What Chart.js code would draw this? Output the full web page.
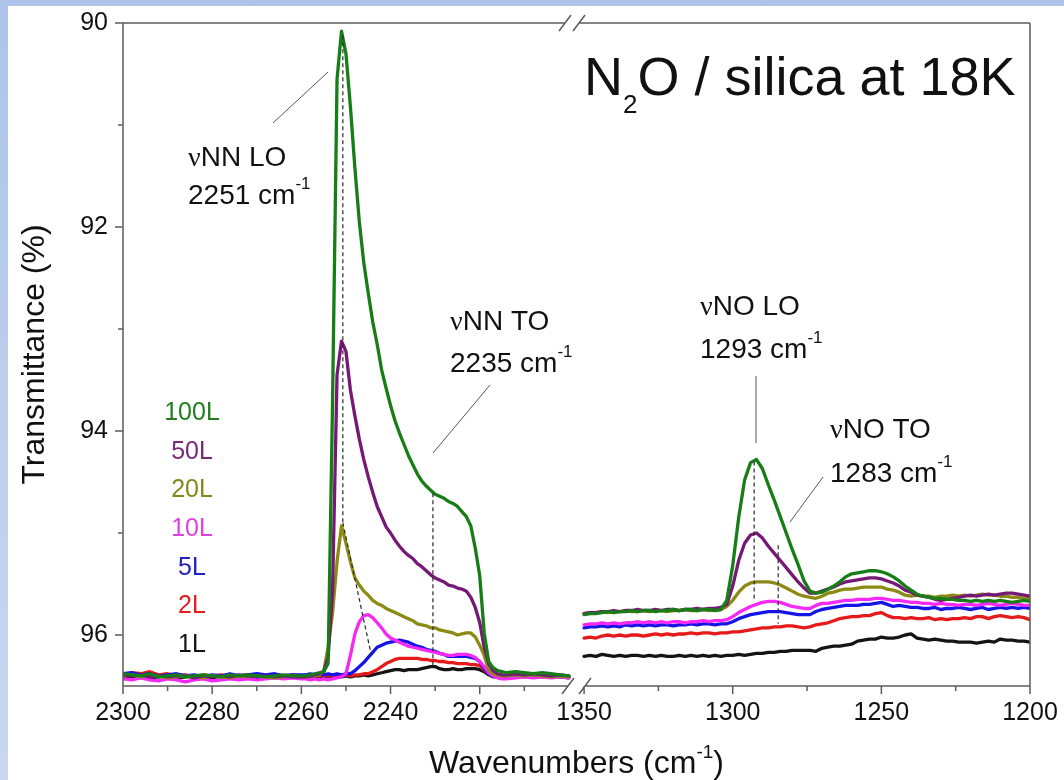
<!DOCTYPE html>
<html>
<head>
<meta charset="utf-8">
<script src="https://cdn.jsdelivr.net/npm/chart.js@4.4.1/dist/chart.umd.min.js"></script>
<style>
  html, body { margin: 0; padding: 0; }
  body { width: 1064px; height: 780px; position: relative; overflow: hidden;
         background: linear-gradient(#aec4e8, #c9d8f0); }
  #sheet { position: absolute; left: 8px; top: 6px; right: 0; bottom: 0; background: #fff; }
  #chart { position: absolute; left: 0; top: 0; }
</style>
</head>
<body>
<div id="sheet"></div>
<canvas id="chart" width="1064" height="780"></canvas>
<script>
// wavenumbers (cm-1), left panel: NN stretch region
const leftWn = [
  2300, 2298, 2296, 2294, 2292, 2290, 2288, 2286, 2284, 2282, 2280, 2278, 2276, 2274, 2272, 2270, 2268, 2266, 2264, 2262, 2260,
  2259, 2258, 2257, 2256, 2255, 2254, 2253, 2252, 2251, 2250,
  2249, 2248, 2247, 2246, 2245, 2244, 2243, 2242, 2241, 2240,
  2239, 2238, 2237, 2236, 2235, 2234, 2233, 2232, 2231, 2230,
  2229, 2228, 2227, 2226, 2225, 2224, 2223, 2222, 2221, 2220,
  2219, 2218, 2217, 2216, 2215,
  2214, 2212, 2210, 2208, 2206, 2204, 2202, 2200
];

// wavenumbers (cm-1), right panel: NO stretch region
const rightWn = [
  1350, 1348, 1346, 1344, 1342, 1340, 1338, 1336, 1334, 1332,
  1330, 1328, 1326, 1324, 1322, 1320, 1318, 1316, 1314, 1312,
  1310, 1308, 1306, 1304, 1302, 1300, 1298, 1296, 1294, 1292,
  1290, 1288, 1286, 1284, 1282, 1280, 1278, 1276, 1274, 1272,
  1270, 1268, 1266, 1264, 1262, 1260, 1258, 1256, 1254, 1252,
  1250, 1248, 1246, 1244, 1242, 1240, 1238, 1236, 1234, 1232,
  1230, 1228, 1226, 1224, 1222, 1220, 1218, 1216, 1214, 1212,
  1210, 1208, 1206, 1204, 1202, 1200
];

// transmittance (%) per exposure, left panel
const left100 = [
  96.38, 96.39, 96.40, 96.38, 96.41, 96.40, 96.39, 96.41, 96.40, 96.39, 96.40, 96.41, 96.39, 96.40, 96.39, 96.40, 96.41, 96.40, 96.39, 96.40, 96.40,
  96.40, 96.39, 96.38, 96.37, 96.36, 96.28, 93.70, 90.55, 90.08, 90.30,
  90.82, 91.42, 91.95, 92.35, 92.65, 92.93, 93.15, 93.40, 93.58, 93.75,
  93.90, 94.02, 94.13, 94.24, 94.33, 94.42, 94.49, 94.54, 94.58, 94.62,
  94.64, 94.66, 94.69, 94.71, 94.74, 94.79, 94.84, 94.93, 95.15, 95.42,
  95.98, 96.26, 96.32, 96.35, 96.36,
  96.37, 96.36, 96.37, 96.38, 96.37, 96.38, 96.39, 96.40
];
const left50 = [
  96.39, 96.40, 96.39, 96.41, 96.40, 96.41, 96.40, 96.40, 96.42, 96.40, 96.41, 96.40, 96.41, 96.39, 96.40, 96.41, 96.40, 96.41, 96.40, 96.41, 96.41,
  96.41, 96.40, 96.39, 96.38, 96.36, 96.22, 95.55, 93.45, 93.12, 93.22,
  93.60, 93.85, 94.08, 94.28, 94.45, 94.60, 94.74, 94.84, 94.94, 95.00,
  95.07, 95.13, 95.18, 95.22, 95.25, 95.30, 95.33, 95.37, 95.41, 95.44,
  95.46, 95.48, 95.51, 95.52, 95.54, 95.55, 95.57, 95.63, 95.73, 95.88,
  96.12, 96.28, 96.35, 96.38, 96.39,
  96.39, 96.38, 96.39, 96.38, 96.39, 96.40, 96.39, 96.40
];
const left20 = [
  96.40, 96.39, 96.41, 96.40, 96.40, 96.42, 96.41, 96.40, 96.41, 96.42, 96.40, 96.41, 96.42, 96.40, 96.41, 96.40, 96.41, 96.42, 96.41, 96.40, 96.41,
  96.41, 96.40, 96.40, 96.39, 96.36, 96.12, 95.78, 95.28, 94.93, 95.10,
  95.28, 95.44, 95.51, 95.57, 95.61, 95.66, 95.69, 95.71, 95.74, 95.76,
  95.78, 95.80, 95.82, 95.84, 95.86, 95.89, 95.90, 95.91, 95.93, 95.93,
  95.95, 95.96, 95.97, 95.98, 96.00, 95.99, 95.98, 95.98, 96.02, 96.10,
  96.20, 96.34, 96.38, 96.39, 96.40,
  96.40, 96.39, 96.40, 96.39, 96.40, 96.41, 96.40, 96.41
];
const left10 = [
  96.43, 96.44, 96.42, 96.44, 96.45, 96.43, 96.44, 96.46, 96.44, 96.43, 96.45, 96.44, 96.43, 96.44, 96.43, 96.44, 96.43, 96.42, 96.43, 96.42, 96.43,
  96.43, 96.44, 96.43, 96.44, 96.43, 96.44, 96.43, 96.42, 96.41, 96.38,
  96.20, 95.99, 95.87, 95.81, 95.80, 95.83, 95.88, 95.93, 95.99, 96.03,
  96.05, 96.07, 96.09, 96.11, 96.12, 96.13, 96.14, 96.15, 96.16, 96.17,
  96.18, 96.19, 96.20, 96.20, 96.19, 96.19, 96.19, 96.20, 96.22, 96.26,
  96.31, 96.37, 96.40, 96.42, 96.43,
  96.43, 96.42, 96.41, 96.42, 96.41, 96.42, 96.41, 96.42
];
const left5 = [
  96.38, 96.37, 96.39, 96.38, 96.40, 96.39, 96.38, 96.40, 96.39, 96.41, 96.39, 96.40, 96.38, 96.40, 96.39, 96.38, 96.39, 96.38, 96.40, 96.39, 96.39,
  96.39, 96.38, 96.39, 96.38, 96.39, 96.38, 96.39, 96.38, 96.39, 96.38,
  96.38, 96.35, 96.31, 96.27, 96.22, 96.17, 96.12, 96.10, 96.08, 96.07,
  96.06, 96.05, 96.06, 96.07, 96.09, 96.11, 96.12, 96.14, 96.15, 96.16,
  96.18, 96.19, 96.21, 96.21, 96.21, 96.21, 96.21, 96.22, 96.23, 96.26,
  96.33, 96.38, 96.40, 96.40, 96.40,
  96.40, 96.39, 96.40, 96.39, 96.40, 96.41, 96.40, 96.41
];
const left2 = [
  96.39, 96.37, 96.38, 96.36, 96.39, 96.38, 96.40, 96.39, 96.41, 96.39, 96.40, 96.39, 96.41, 96.40, 96.39, 96.41, 96.40, 96.39, 96.40, 96.39, 96.40,
  96.40, 96.39, 96.40, 96.39, 96.40, 96.39, 96.40, 96.39, 96.40, 96.39,
  96.40, 96.39, 96.39, 96.38, 96.38, 96.36, 96.34, 96.31, 96.28, 96.26,
  96.24, 96.23, 96.23, 96.23, 96.23, 96.23, 96.24, 96.24, 96.25, 96.25,
  96.26, 96.26, 96.27, 96.27, 96.28, 96.28, 96.28, 96.29, 96.29, 96.30,
  96.34, 96.38, 96.40, 96.40, 96.40,
  96.40, 96.39, 96.40, 96.41, 96.40, 96.39, 96.40, 96.41
];
const left1 = [
  96.40, 96.41, 96.40, 96.42, 96.41, 96.40, 96.42, 96.41, 96.40, 96.41, 96.42, 96.40, 96.41, 96.40, 96.41, 96.42, 96.41, 96.40, 96.41, 96.40, 96.40,
  96.41, 96.40, 96.41, 96.40, 96.41, 96.40, 96.41, 96.40, 96.41, 96.40,
  96.41, 96.40, 96.40, 96.39, 96.40, 96.39, 96.38, 96.37, 96.36, 96.35,
  96.34, 96.34, 96.35, 96.34, 96.34, 96.34, 96.33, 96.32, 96.31, 96.31,
  96.33, 96.34, 96.34, 96.33, 96.34, 96.34, 96.33, 96.33, 96.33, 96.34,
  96.36, 96.39, 96.41, 96.41, 96.41,
  96.41, 96.40, 96.41, 96.40, 96.41, 96.40, 96.41, 96.42
];

// transmittance (%) per exposure, right panel
const right100 = [
  95.80, 95.79, 95.79, 95.78, 95.77, 95.78, 95.77, 95.77, 95.76, 95.77,
  95.76, 95.76, 95.77, 95.76, 95.76, 95.75, 95.76, 95.75, 95.75, 95.76,
  95.75, 95.75, 95.76, 95.75, 95.66, 95.32, 94.85, 94.48, 94.31, 94.28,
  94.37, 94.53, 94.68, 94.84, 95.00, 95.16, 95.31, 95.47, 95.57, 95.59,
  95.58, 95.55, 95.52, 95.48, 95.43, 95.40, 95.39, 95.38, 95.37, 95.37,
  95.38, 95.40, 95.43, 95.47, 95.52, 95.56, 95.60, 95.62, 95.63, 95.64,
  95.64, 95.65, 95.65, 95.66, 95.66, 95.67, 95.66, 95.67, 95.66, 95.67,
  95.66, 95.67, 95.68, 95.67, 95.66, 95.67
];
const right50 = [
  95.79, 95.78, 95.78, 95.77, 95.77, 95.76, 95.77, 95.76, 95.76, 95.75,
  95.76, 95.76, 95.75, 95.76, 95.75, 95.75, 95.76, 95.75, 95.75, 95.74,
  95.75, 95.74, 95.74, 95.73, 95.70, 95.52, 95.27, 95.10, 95.02, 95.00,
  95.05, 95.13, 95.20, 95.27, 95.34, 95.41, 95.48, 95.54, 95.59, 95.59,
  95.57, 95.55, 95.53, 95.50, 95.48, 95.47, 95.46, 95.45, 95.44, 95.44,
  95.45, 95.47, 95.49, 95.52, 95.56, 95.58, 95.61, 95.62, 95.63, 95.65,
  95.66, 95.65, 95.64, 95.63, 95.62, 95.61, 95.62, 95.61, 95.60, 95.61,
  95.60, 95.59, 95.59, 95.60, 95.61, 95.62
];
const right20 = [
  95.79, 95.78, 95.78, 95.77, 95.78, 95.77, 95.77, 95.76, 95.77, 95.77,
  95.76, 95.77, 95.76, 95.76, 95.77, 95.76, 95.76, 95.75, 95.76, 95.76,
  95.75, 95.76, 95.75, 95.75, 95.72, 95.66, 95.58, 95.52, 95.49, 95.48,
  95.48, 95.48, 95.49, 95.51, 95.54, 95.57, 95.60, 95.62, 95.63, 95.64,
  95.62, 95.59, 95.58, 95.56, 95.55, 95.55, 95.54, 95.53, 95.53, 95.53,
  95.53, 95.55, 95.56, 95.58, 95.61, 95.62, 95.61, 95.62, 95.62, 95.63,
  95.62, 95.62, 95.61, 95.62, 95.61, 95.62, 95.61, 95.60, 95.61, 95.61,
  95.62, 95.62, 95.63, 95.63, 95.64, 95.64
];
const right10 = [
  95.90, 95.89, 95.89, 95.88, 95.89, 95.88, 95.89, 95.88, 95.88, 95.87,
  95.88, 95.87, 95.88, 95.87, 95.88, 95.87, 95.87, 95.88, 95.87, 95.87,
  95.86, 95.87, 95.86, 95.86, 95.85, 95.82, 95.78, 95.75, 95.72, 95.70,
  95.68, 95.67, 95.67, 95.68, 95.70, 95.72, 95.73, 95.74, 95.74, 95.71,
  95.69, 95.69, 95.68, 95.67, 95.66, 95.66, 95.65, 95.65, 95.65, 95.64,
  95.64, 95.65, 95.66, 95.66, 95.67, 95.68, 95.68, 95.69, 95.69, 95.70,
  95.69, 95.70, 95.70, 95.71, 95.70, 95.70, 95.71, 95.70, 95.69, 95.70,
  95.71, 95.70, 95.69, 95.70, 95.71, 95.71
];
const right5 = [
  95.93, 95.92, 95.92, 95.91, 95.92, 95.91, 95.92, 95.90, 95.91, 95.90,
  95.91, 95.90, 95.91, 95.90, 95.90, 95.91, 95.90, 95.90, 95.89, 95.90,
  95.89, 95.89, 95.90, 95.89, 95.89, 95.87, 95.84, 95.82, 95.80, 95.79,
  95.78, 95.77, 95.77, 95.77, 95.78, 95.79, 95.80, 95.80, 95.80, 95.77,
  95.75, 95.74, 95.73, 95.72, 95.71, 95.71, 95.71, 95.70, 95.70, 95.69,
  95.68, 95.70, 95.72, 95.71, 95.72, 95.73, 95.73, 95.74, 95.74, 95.73,
  95.75, 95.74, 95.74, 95.73, 95.74, 95.75, 95.74, 95.73, 95.75, 95.74,
  95.73, 95.74, 95.73, 95.74, 95.73, 95.74
];
const right2 = [
  96.03, 96.02, 96.03, 96.01, 96.00, 96.01, 96.00, 96.01, 96.00, 96.00,
  96.01, 96.00, 95.99, 96.00, 95.99, 96.00, 95.99, 95.99, 95.98, 95.99,
  95.98, 95.98, 95.99, 95.98, 95.98, 95.97, 95.97, 95.96, 95.95, 95.94,
  95.93, 95.93, 95.92, 95.92, 95.91, 95.91, 95.92, 95.93, 95.92, 95.90,
  95.89, 95.88, 95.86, 95.84, 95.83, 95.82, 95.82, 95.81, 95.81, 95.79,
  95.78, 95.81, 95.83, 95.83, 95.84, 95.83, 95.84, 95.84, 95.83, 95.85,
  95.84, 95.85, 95.84, 95.84, 95.83, 95.84, 95.82, 95.82, 95.84, 95.82,
  95.81, 95.82, 95.83, 95.82, 95.83, 95.85
];
const right1 = [
  96.21, 96.20, 96.21, 96.19, 96.20, 96.21, 96.20, 96.21, 96.20, 96.20,
  96.21, 96.20, 96.21, 96.20, 96.21, 96.21, 96.20, 96.21, 96.20, 96.21,
  96.20, 96.21, 96.20, 96.21, 96.20, 96.20, 96.19, 96.20, 96.19, 96.18,
  96.18, 96.17, 96.17, 96.16, 96.16, 96.15, 96.15, 96.15, 96.15, 96.16,
  96.13, 96.12, 96.11, 96.11, 96.10, 96.09, 96.06, 96.05, 96.04, 96.04,
  96.02, 96.03, 96.03, 96.02, 96.00, 95.99, 96.03, 96.04, 96.05, 96.04,
  96.05, 96.06, 96.06, 96.07, 96.07, 96.07, 96.08, 96.07, 96.06, 96.07,
  96.04, 96.05, 96.05, 96.06, 96.06, 96.07
];

// exposures, legend order
const doses = ['100L', '50L', '20L', '10L', '5L', '2L', '1L'];

// axis ticks
const xMajor = [2300, 2280, 2260, 2240, 2220, 1350, 1300, 1250, 1200];
const xMinor = [2290, 2270, 2250, 2230, 2210, 1325, 1275, 1225];
const yMajor = [90, 92, 94, 96];
const yMinor = [91, 93, 95];

// peak marks (wavenumber, transmittance) -> dashed lines
const peakMarks = [
  [2250.7, 90.12, 2250.7, 94.9],
  [2250.7, 94.9, 2244.3, 96.2],
  [2230.5, 94.61, 2230.5, 96.31],
  [1292.8, 94.3, 1292.8, 95.66],
  [1284.7, 95.12, 1284.7, 95.89],
];

const SANS = '"Liberation Sans", Arial, sans-serif';
const SERIF = '"Liberation Serif", "Times New Roman", serif';

// broken x axis: both panels get 100 axis units, small gap between them
const LEFT_SPAN = 100, GAP = 3.4, RIGHT_FACTOR = 100 / 150;
const toAxis = wn => wn > 2000 ? 2300 - wn : LEFT_SPAN + GAP + (1350 - wn) * RIGHT_FACTOR;

const lineColors = ['#177d17', '#761876', '#8b8b14', '#f528f5', '#1414e6', '#e61a1a', '#141414'];
const textColors = ['#1f7f1f', '#7a2a7a', '#86861e', '#e040e0', '#2020c0', '#e02020', '#111111'];
const leftSets = [left100, left50, left20, left10, left5, left2, left1];
const rightSets = [right100, right50, right20, right10, right5, right2, right1];

// first dataset is drawn last, so 100L stays on top
const datasets = [];
doses.forEach((dose, k) => {
  const style = { borderColor: lineColors[k], borderWidth: 3.3, pointRadius: 0, tension: 0,
                  borderJoinStyle: 'round', borderCapStyle: 'round', fill: false };
  datasets.push({ label: dose, data: leftWn.map((wn, i) => ({ x: toAxis(wn), y: leftSets[k][i] })), ...style });
  datasets.push({ label: dose, data: rightWn.map((wn, i) => ({ x: toAxis(wn), y: rightSets[k][i] })), ...style });
});

// draw a run of text pieces (normal, serif, sub/superscript)
const drawParts = (ctx, x, y, parts, size) => {
  parts.forEach(p => {
    const s = p.size || size;
    ctx.font = `${s}px ${p.serif ? SERIF : SANS}`;
    ctx.fillText(p.t, x, y + (p.dy || 0));
    x += ctx.measureText(p.t).width;
  });
};
const partsWidth = (ctx, parts, size) => parts.reduce((w, p) => {
  ctx.font = `${p.size || size}px ${p.serif ? SERIF : SANS}`;
  return w + ctx.measureText(p.t).width;
}, 0);

const notes = [
  { x: 188, y: 166, parts: [{ t: 'ν', serif: true }, { t: 'NN LO' }] },
  { x: 188, y: 204, parts: [{ t: '2251 cm' }, { t: '-1', size: 17, dy: -15 }] },
  { x: 450, y: 330, parts: [{ t: 'ν', serif: true }, { t: 'NN TO' }] },
  { x: 450, y: 372, parts: [{ t: '2235 cm' }, { t: '-1', size: 17, dy: -15 }] },
  { x: 700, y: 315, parts: [{ t: 'ν', serif: true }, { t: 'NO LO' }] },
  { x: 700, y: 358, parts: [{ t: '1293 cm' }, { t: '-1', size: 17, dy: -15 }] },
  { x: 830, y: 438, parts: [{ t: 'ν', serif: true }, { t: 'NO TO' }] },
  { x: 830, y: 482, parts: [{ t: '1283 cm' }, { t: '-1', size: 17, dy: -15 }] },
];
const leaders = [[273, 123, 328, 72], [490, 385, 433, 453], [756, 376, 756, 443], [823, 477, 790, 522]];

const decor = {
  id: 'decor',
  afterDatasetsDraw(chart) {
    const { ctx, chartArea: a, scales: { x, y } } = chart;
    const px = wn => x.getPixelForValue(toAxis(wn));
    const py = v => y.getPixelForValue(v);
    ctx.save();

    // dashed peak markers
    ctx.strokeStyle = '#2a2a2a';
    ctx.lineWidth = 1.2;
    ctx.setLineDash([4, 3]);
    peakMarks.forEach(([w1, v1, w2, v2]) => {
      ctx.beginPath(); ctx.moveTo(px(w1), py(v1)); ctx.lineTo(px(w2), py(v2)); ctx.stroke();
    });
    ctx.setLineDash([]);

    // leader lines
    ctx.strokeStyle = '#555';
    ctx.lineWidth = 1;
    leaders.forEach(([x1, y1, x2, y2]) => {
      ctx.beginPath(); ctx.moveTo(x1, y1); ctx.lineTo(x2, y2); ctx.stroke();
    });

    // frame with axis break
    ctx.strokeStyle = '#5c5c5c';
    ctx.lineWidth = 1.5;
    ctx.beginPath();
    ctx.moveTo(a.left, a.top); ctx.lineTo(a.left, a.bottom);
    ctx.moveTo(a.right, a.top); ctx.lineTo(a.right, a.bottom);
    ctx.moveTo(a.left, a.top); ctx.lineTo(565, a.top);
    ctx.moveTo(579, a.top); ctx.lineTo(a.right, a.top);
    ctx.moveTo(a.left, a.bottom); ctx.lineTo(568, a.bottom);
    ctx.moveTo(585, a.bottom); ctx.lineTo(a.right, a.bottom);
    [[565, a.top], [579, a.top], [568, a.bottom], [585, a.bottom]].forEach(([cx, cy]) => {
      ctx.moveTo(cx - 6, cy + 8); ctx.lineTo(cx + 6, cy - 8);
    });
    // ticks
    xMajor.forEach(wn => { ctx.moveTo(px(wn), a.bottom); ctx.lineTo(px(wn), a.bottom + 8); });
    xMinor.forEach(wn => { ctx.moveTo(px(wn), a.bottom); ctx.lineTo(px(wn), a.bottom + 5); });
    yMajor.forEach(v => { ctx.moveTo(a.left - 8, py(v)); ctx.lineTo(a.left, py(v)); });
    yMinor.forEach(v => { ctx.moveTo(a.left - 5, py(v)); ctx.lineTo(a.left, py(v)); });
    ctx.stroke();

    // peak labels
    ctx.fillStyle = '#111';
    ctx.textAlign = 'left';
    ctx.textBaseline = 'alphabetic';
    notes.forEach(n => drawParts(ctx, n.x, n.y, n.parts, 28));

    // title
    drawParts(ctx, 584, 95, [{ t: 'N' }, { t: '2', size: 26, dy: 18 }, { t: 'O / silica at 18K' }], 54);

    // x axis title
    const xt = [{ t: 'Wavenumbers (cm' }, { t: '-1', size: 19, dy: -15 }, { t: ')' }];
    drawParts(ctx, (a.left + a.right) / 2 - partsWidth(ctx, xt, 32) / 2, 773, xt, 32);

    // y axis title
    ctx.save();
    ctx.translate(44, (a.top + a.bottom) / 2);
    ctx.rotate(-Math.PI / 2);
    ctx.textAlign = 'center';
    ctx.font = `32px ${SANS}`;
    ctx.fillText('Transmittance (%)', 0, 0);
    ctx.restore();

    // dose labels
    ctx.textAlign = 'center';
    ctx.textBaseline = 'middle';
    ctx.font = `25px ${SANS}`;
    doses.forEach((d, k) => {
      ctx.fillStyle = textColors[k];
      ctx.fillText(d, 192, 413 + k * 38.7);
    });
    ctx.restore();
  }
};

new Chart(document.getElementById('chart'), {
  type: 'line',
  data: { datasets },
  options: {
    responsive: false,
    animation: false,
    events: [],
    layout: { padding: { top: 23, right: 34, bottom: 0, left: 0 } },
    plugins: { legend: { display: false }, tooltip: { enabled: false } },
    scales: {
      x: {
        type: 'linear',
        min: 0,
        max: toAxis(1200),
        border: { display: false },
        grid: { drawOnChartArea: false, drawTicks: true, tickLength: 8, color: 'rgba(0,0,0,0)' },
        afterBuildTicks: axis => { axis.ticks = [...xMajor, ...xMinor].map(wn => ({ value: toAxis(wn), wn })); },
        afterFit: axis => { axis.height = 94; },
        ticks: {
          autoSkip: false, maxRotation: 0, padding: 4, color: '#111',
          font: { family: SANS, size: 25 },
          callback: (v, i, ticks) => xMajor.includes(ticks[i].wn) ? String(ticks[i].wn) : '',
        },
      },
      y: {
        type: 'linear',
        reverse: true,
        min: 90,
        max: 96.5,
        border: { display: false },
        grid: { drawOnChartArea: false, drawTicks: true, tickLength: 8, color: 'rgba(0,0,0,0)' },
        afterBuildTicks: axis => { axis.ticks = [...yMajor, ...yMinor].map(v => ({ value: v })); },
        afterFit: axis => { axis.width = 123; },
        ticks: {
          padding: 7, color: '#111',
          font: { family: SANS, size: 25 },
          callback: v => yMajor.includes(v) ? String(v) : '',
        },
      },
    },
  },
  plugins: [decor],
});
</script>
</body>
</html>
